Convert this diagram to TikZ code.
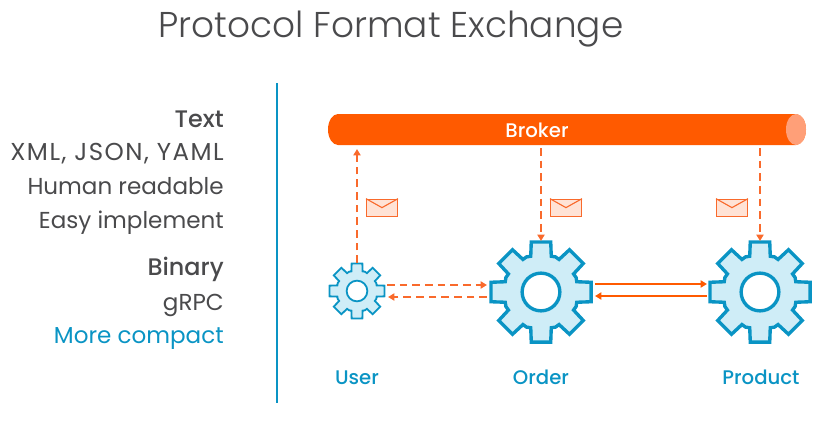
\documentclass[tikz,border=0pt]{standalone}
\usepackage{fontspec}
\setmainfont{Poppins}
\newfontfamily\lightfont{Poppins Light}
\newfontfamily\mediumfont{Poppins Medium}
\usetikzlibrary{arrows.meta,calc}
\definecolor{brokerorange}{HTML}{FF5A00}
\definecolor{brokercap}{HTML}{FF9F78}
\definecolor{linkorange}{HTML}{F96A2C}
\definecolor{mailfill}{HTML}{FFE3D6}
\definecolor{gearblue}{HTML}{0A94C4}
\definecolor{gearfill}{HTML}{CFEDF7}
\definecolor{inktext}{HTML}{4A4A4C}
\tikzset{
  msg/.style={brokerorange,line width=1.2pt,-{Triangle[length=4.5pt,width=5pt]}},
  msgdash/.style={msg,linkorange,line width=1.3pt,dash pattern=on 5.5pt off 3.5pt},
  sidetext/.style={anchor=base east,inner sep=0pt,inktext,font=\fontsize{16.4}{16}\selectfont},
  sidehead/.style={anchor=base east,inner sep=0pt,inktext,font=\mediumfont\fontsize{17}{16}\selectfont},
  gearlabel/.style={anchor=base,inner sep=0pt,gearblue,font=\mediumfont\fontsize{14}{14}\selectfont},
  mailbox/.style={draw=linkorange,fill=mailfill,line width=0.8pt,minimum width=22pt,minimum height=12.5pt,inner sep=0pt},
  gearspot/.style={circle,minimum size=#1*0.025cm,inner sep=0pt,outer sep=0pt},
}
% one gear: name, centre, outer radius, line width
\newcommand{\gear}[4]{
  \pgfmathsetmacro{\rbody}{#3*0.73}
  \pgfmathsetmacro{\rhole}{#3*0.37}
  \node[gearspot=2*#3] (#1) at (#2) {};
  \draw[gearblue,fill=gearfill,line width=#4,line join=miter]
    (#2)++(-16:\rbody)
    foreach \a in {0,45,...,315}{
      -- ($(#2)+(\a-16:\rbody)$) -- ($(#2)+(\a-11:#3)$) -- ($(#2)+(\a+11:#3)$) -- ($(#2)+(\a+16:\rbody)$)
      -- ($(#2)+(\a+22.5:\rbody*1.02)$)
    } -- cycle;
  \draw[gearblue,fill=white,line width=#4] (#2) circle (\rhole);
}
\newcommand{\envelope}[2]{
  \node[mailbox] (#1) at (#2) {};
  \draw[linkorange,line width=0.8pt] (#1.north west) -- ++(16,9) -- (#1.north east);
}
\begin{document}
\begin{tikzpicture}[x=0.025cm,y=-0.025cm]
\useasboundingbox (0,0) rectangle (825,421);
\node[inktext,font=\lightfont\fontsize{25.5}{25}\selectfont] (title) at (391,29) {Protocol Format Exchange};
%
\node[sidehead] (text) at (224,127) {Text};
\node[sidetext,font=\addfontfeature{LetterSpace=6}\fontsize{17.4}{16}\selectfont] (formats) at (224,160) {XML, JSON, YAML};
\node[sidetext] (readable) at (224,194) {Human readable};
\node[sidetext] (easy) at (224,228) {Easy implement};
\node[sidehead] (binary) at (224,275) {Binary};
\node[sidetext] (grpc) at (224,310) {gRPC};
\node[sidetext,text=gearblue] (compact) at (224,343) {More compact};
\draw[gearblue,line width=1.5pt] (277,83)--(277,403);
%
\node[minimum width=478*0.025cm,minimum height=31*0.025cm,inner sep=0pt,outer sep=0pt] (broker) at (567,129.5) {};
\fill[brokerorange] ($(broker.north east)+(-10,0)$) -- ($(broker.north west)+(10,0)$)
  arc (-90:-270:10 and 15.5) -- ($(broker.south east)+(-10,0)$) arc (90:-90:10 and 15.5) -- cycle;
\fill[brokercap] ($(broker.east)+(-10,0)$) ellipse (10 and 15.5);
\node[text=white,font=\mediumfont\fontsize{14}{14}\selectfont] (brokerlabel) at (537,130) {Broker};
%
\gear{user}{357,291}{28}{1.3pt}
\gear{order}{541,292}{51}{2.4pt}
\gear{product}{760,292}{51}{2.4pt}
%
\envelope{mailuser}{382,208}
\envelope{mailorder}{566,208}
\envelope{mailproduct}{732,208}
%
\draw[msgdash] (user.north) -- ($(user.north |- broker.south)+(0,4)$);
\draw[msgdash] ($(order.north |- broker.south)+(0,3)$) -- (order.north);
\draw[msgdash] ($(product.north |- broker.south)+(0,3)$) -- (product.north);
\draw[msgdash] ($(user.east)+(2,-6)$) -- ($(order.west)+(-3,-7)$);
\draw[msgdash] ($(order.west)+(-3,5)$) -- ($(user.east)+(3,6)$);
\draw[msg] ($(order.east)+(3,-8)$) -- ($(product.west)+(-2,-8)$);
\draw[msg] ($(product.west)+(-2,4)$) -- ($(order.east)+(3,4)$);
%
\node[gearlabel] (userlabel) at (357,384) {User};
\node[gearlabel] (orderlabel) at (541,384) {Order};
\node[gearlabel] (productlabel) at (761,384) {Product};
\end{tikzpicture}
\end{document}
